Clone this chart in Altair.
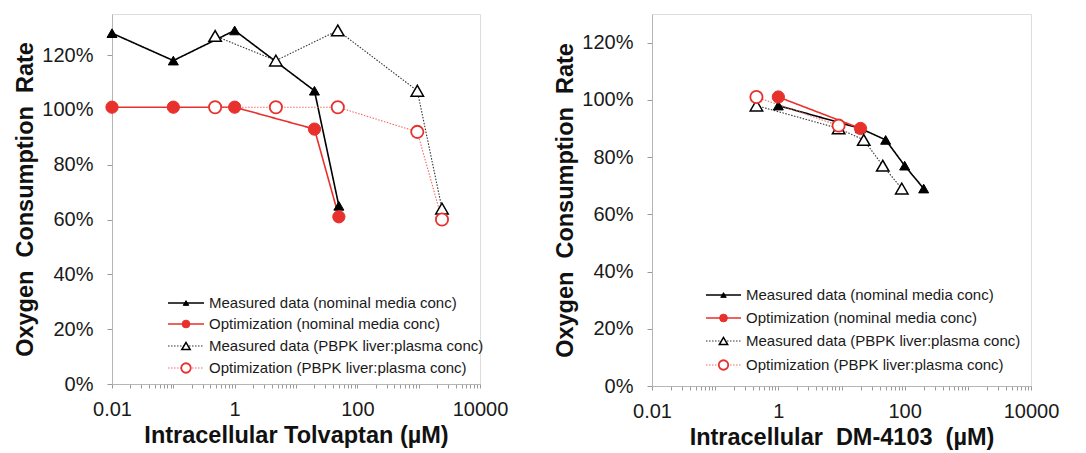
import altair as alt
import pandas as pd

# ---------------- data ----------------
# Left panel: Tolvaptan
tol_nom_x = [0.01, 0.1, 1, 20, 50]
tol_meas_nom_y = [1.28, 1.18, 1.29, 1.07, 0.65]
tol_opt_nom_y = [1.01, 1.01, 1.01, 0.93, 0.61]
tol_pbpk_x = [0.48, 4.7, 48, 950, 2400]
tol_meas_pbpk_y = [1.27, 1.18, 1.29, 1.07, 0.64]
tol_opt_pbpk_y = [1.01, 1.01, 1.01, 0.92, 0.60]

# Right panel: DM-4103
dm_nom_x = [1, 20, 50, 100, 200]
dm_meas_nom_y = [0.98, 0.90, 0.86, 0.77, 0.69]
dm_opt_nom_x = [1, 20]
dm_opt_nom_y = [1.01, 0.90]
dm_pbpk_x = [0.45, 9, 22.5, 45, 90]
dm_meas_pbpk_y = [0.98, 0.90, 0.86, 0.77, 0.69]
dm_opt_pbpk_x = [0.45, 9]
dm_opt_pbpk_y = [1.01, 0.91]

legend_labels = [
    "Measured data (nominal media conc)",
    "Optimization (nominal media conc)",
    "Measured data (PBPK liver:plasma conc)",
    "Optimization (PBPK liver:plasma conc)",
]
y_title = "Oxygen\u00a0\u00a0Consumption\u00a0\u00a0Rate"
left_x_title = "Intracellular Tolvaptan (µM)"
right_x_title = "Intracellular\u00a0\u00a0DM-4103\u00a0\u00a0(µM)"
y_tick_values = [0, 0.2, 0.4, 0.6, 0.8, 1.0, 1.2]
x_tick_labels = ["0.01", "1", "100", "10000"]
x_decades = [-2, -1, 0, 1, 2, 3]

RED = "#e8302c"
FONT = "Liberation Sans"
TITLE_SIZE = 23.5

x_minor = [m * 10.0 ** e for e in x_decades for m in range(1, 10)] + [10000]

# style of each series
styles = [
    dict(color="black", dash=[1, 0], lw=1.6, shape="triangle-up", fill="black", stroke="black", size=100, lsize=30, sw=1),
    dict(color=RED, dash=[1, 0], lw=1.6, shape="circle", fill=RED, stroke=RED, size=150, lsize=60, sw=1),
    dict(color="#333333", dash=[1.5, 1.5], lw=1.1, shape="triangle-up", fill="white", stroke="black", size=155, lsize=70, sw=1.5),
    dict(color="#f06a66", dash=[1.5, 1.5], lw=1.1, shape="circle", fill="white", stroke=RED, size=150, lsize=90, sw=1.8),
]


def panel(series, xtitle, w, h, ymax, leg_rows, leg_x0, leg_x1, leg_tx):
    xs = alt.Scale(type="log", domain=[0.01, 10000])
    ys = alt.Scale(domain=[0, ymax], nice=False, zero=True)
    label_arr = "[" + ",".join("'" + t + "'" for t in x_tick_labels) + "]"
    xenc = alt.X(
        "x:Q", scale=xs, title=xtitle,
        axis=alt.Axis(values=x_minor, format="~g",
                      labelExpr="indexof(" + label_arr + ", datum.label) >= 0 ? datum.label : ''",
                      grid=False, tickSize=4, labelPadding=11, titlePadding=4,
                      labelFontSize=20, titleFontSize=TITLE_SIZE, titleFontWeight="bold",
                      domainColor="#b5b5b5", tickColor="#9a9a9a", labelColor="#1a1a1a",
                      titleColor="#111111", labelFont=FONT, titleFont=FONT,
                      labelOverlap=False, labelFlush=False),
    )
    yenc = alt.Y(
        "y:Q", scale=ys, title=y_title,
        axis=alt.Axis(values=y_tick_values, format=".0%", grid=False, tickSize=5,
                      labelPadding=14, titlePadding=4, labelFontSize=20,
                      titleFontSize=TITLE_SIZE, titleFontWeight="bold",
                      domainColor="#b5b5b5", tickColor="#9a9a9a", labelColor="#1a1a1a",
                      titleColor="#111111", labelFont=FONT, titleFont=FONT),
    )
    layers = []
    for (xv, yv), st in zip(series, styles):
        df = pd.DataFrame({"x": xv, "y": yv})
        layers.append(
            alt.Chart(df).mark_line(color=st["color"], strokeWidth=st["lw"], strokeDash=st["dash"])
            .encode(x=xenc, y=yenc)
        )
    for (xv, yv), st in zip(series, styles):
        df = pd.DataFrame({"x": xv, "y": yv})
        layers.append(
            alt.Chart(df).mark_point(shape=st["shape"], filled=True, fill=st["fill"], stroke=st["stroke"],
                                     strokeWidth=st["sw"], size=st["size"], opacity=1)
            .encode(x=xenc, y=yenc)
        )
    # legend drawn inside the plot area
    dummy = pd.DataFrame({"a": [0]})
    for label, st, ry in zip(legend_labels, styles, leg_rows):
        layers.append(
            alt.Chart(dummy).mark_rule(color=st["color"], strokeWidth=st["lw"], strokeDash=st["dash"])
            .encode(x=alt.value(leg_x0), x2=alt.value(leg_x1), y=alt.value(ry))
        )
        layers.append(
            alt.Chart(dummy).mark_point(shape=st["shape"], filled=True, fill=st["fill"], stroke=st["stroke"],
                                        strokeWidth=st["sw"], size=st["lsize"], opacity=1)
            .encode(x=alt.value((leg_x0 + leg_x1) / 2), y=alt.value(ry))
        )
        layers.append(
            alt.Chart(dummy).mark_text(align="left", baseline="middle", fontSize=15, font=FONT, color="#1a1a1a")
            .encode(x=alt.value(leg_tx), y=alt.value(ry), text=alt.value(label))
        )
    return alt.layer(*layers).properties(width=w, height=h)


left = panel(
    [(tol_nom_x, tol_meas_nom_y), (tol_nom_x, tol_opt_nom_y),
     (tol_pbpk_x, tol_meas_pbpk_y), (tol_pbpk_x, tol_opt_pbpk_y)],
    left_x_title, 368, 370, 1.35,
    [289, 310, 332, 354], 56, 92, 97,
)
right = panel(
    [(dm_nom_x, dm_meas_nom_y), (dm_opt_nom_x, dm_opt_nom_y),
     (dm_pbpk_x, dm_meas_pbpk_y), (dm_opt_pbpk_x, dm_opt_pbpk_y)],
    right_x_title, 379, 372, 1.30,
    [281, 304, 327, 351], 54, 89, 94,
)

chart = alt.hconcat(left, right, spacing=44).configure_view(stroke=None).configure(font=FONT)
chart.save("out.html", embed_options={"renderer": "svg", "actions": False})
